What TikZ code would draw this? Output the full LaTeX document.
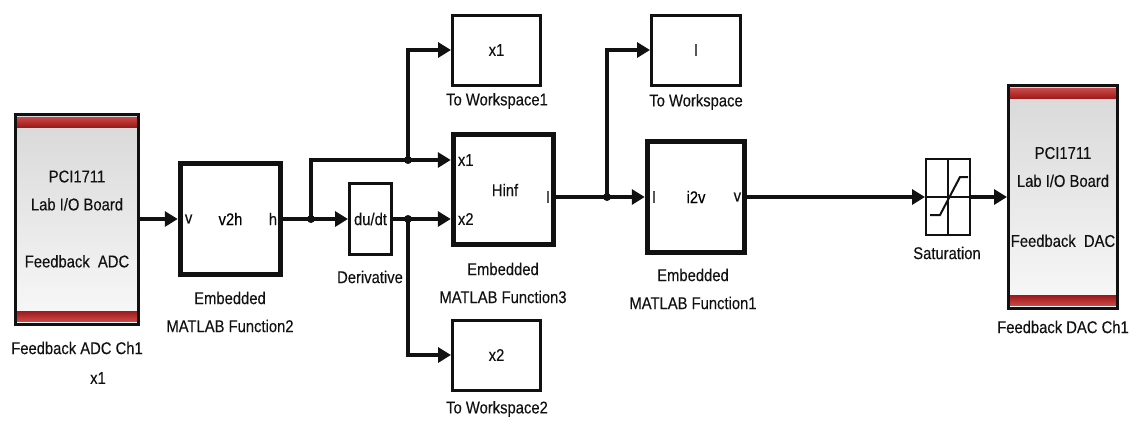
\documentclass[tikz,border=0pt]{standalone}
\usepackage{fontspec}
\setmainfont[FakeStretch=0.87,FakeBold=0.25]{Liberation Sans}
\usetikzlibrary{arrows.meta,positioning,calc}
\definecolor{slkInk}{HTML}{111111}
\definecolor{slkRed}{HTML}{9E1A1A}
\definecolor{slkRedHi}{HTML}{C94848}
\definecolor{slkPanelTop}{HTML}{D8D8D8}
\definecolor{slkPanelBot}{HTML}{F8F8F8}
\tikzset{
    >={Triangle[length=13pt,width=15pt]},
    every picture/.style={font=\fontsize{17}{20}\selectfont},
    fnblock/.style={draw=slkInk, line width=5.5pt, fill=white, inner sep=0pt},
    sinkblock/.style={draw=slkInk, line width=3pt, fill=white, inner sep=0pt, minimum width=88pt, minimum height=70pt, text=slkInk},
    board/.style={draw=slkInk, line width=3pt, align=center, text=slkInk, inner sep=0pt,
        path picture={
            \shade[top color=slkPanelTop, bottom color=slkPanelBot] (path picture bounding box.south west) rectangle (path picture bounding box.north east);
            \shade[top color=slkRedHi, bottom color=slkRed] ([yshift=-3pt]path picture bounding box.north west) rectangle ([yshift=-13pt]path picture bounding box.north east);
            \shade[top color=slkRed, bottom color=slkRedHi] ([yshift=3pt]path picture bounding box.south west) rectangle ([yshift=13pt]path picture bounding box.south east);
        }},
    caption/.style={text=slkInk, inner sep=0pt, align=center, font=\fontsize{17}{28}\selectfont},
    port/.style={text=slkInk, inner sep=0pt},
    wire/.style={->, line width=3.5pt, draw=slkInk},
    line/.style={line width=3.5pt, draw=slkInk},
    tap/.style={circle, fill=slkInk, inner sep=0pt, minimum size=8pt}
}
\begin{document}
\begin{tikzpicture}[x=1pt,y=-1pt]
\useasboundingbox (0,0) rectangle (1136,426);
% boards
\node[board, minimum width=123pt, minimum height=210pt, font=\fontsize{17}{28}\selectfont] (adc) at (77,219) {PCI1711\\Lab I/O Board\\[29pt]Feedback~ ADC};
\node[caption] (adcCap) at (77,348) {Feedback ADC Ch1};
\node[caption] (adcVar) at (98,378) {x1};
\node[board, minimum width=109pt, minimum height=223pt, font=\fontsize{17}{28}\selectfont] (dac) at (1063,197) {PCI1711\\Lab I/O Board\\[32pt]Feedback~ DAC};
\node[caption] (dacCap) at (1063,327) {Feedback DAC Ch1};

% embedded functions
\node[fnblock, minimum width=100pt, minimum height=111pt] (v2h) at (230.5,219) {v2h};
\node[port, anchor=west] (v2hIn) at ($(v2h.west)+(7,0)$) {v};
\node[port, anchor=east] (v2hOut) at ($(v2h.east)+(-6,0)$) {h};
\node[caption] (v2hCap) at (230,312) {Embedded\\MATLAB Function2};

\node[fnblock, minimum width=100pt, minimum height=110pt] (hinf) at (503.5,189.5) {};
\node[port] (hinfName) at (505,190) {Hinf};
\node[port, anchor=west] (hinfX1) at ($(hinf.west)+(7,-29.5)$) {x1};
\node[port, anchor=west] (hinfX2) at ($(hinf.west)+(7,29.5)$) {x2};
\node[port, anchor=east] (hinfI) at ($(hinf.east)+(-6,7.5)$) {I};
\node[caption] (hinfCap) at (503,283) {Embedded\\MATLAB Function3};

\node[fnblock, minimum width=97pt, minimum height=111pt] (i2v) at (696,197) {i2v};
\node[port, anchor=west] (i2vIn) at ($(i2v.west)+(7,0)$) {I};
\node[port, anchor=east] (i2vOut) at ($(i2v.east)+(-6,0)$) {v};
\node[caption] (i2vCap) at (693,289) {Embedded\\MATLAB Function1};

% derivative and saturation
\node[draw=slkInk, line width=3pt, fill=white, inner sep=0pt, minimum width=42pt, minimum height=71pt, text=slkInk] (deriv) at (370.5,219) {du/dt};
\node[caption] (derivCap) at (370,277) {Derivative};
\node[draw=slkInk, line width=2pt, fill=white, minimum width=44pt, minimum height=76pt] (sat) at (948,197) {};
\draw[slkInk, line width=1.5pt] (sat.north) -- (sat.south) (sat.west) -- (sat.east);
\draw[slkInk, line width=2pt, shift={(sat.center)}] (-18,18) -- (-8,18) -- (12,-20) -- (20,-20);
\node[caption] (satCap) at (947,253) {Saturation};

% workspace sinks
\node[sinkblock] (tw1) at (496.5,50) {x1};
\node[caption] (tw1Cap) at (497,101) {To Workspace1};
\node[sinkblock] (tw2) at (496.5,355) {x2};
\node[caption] (tw2Cap) at (497,409) {To Workspace2};
\node[sinkblock, minimum width=89pt] (tw) at (696,50) {I};
\node[caption] (twCap) at (696,102) {To Workspace};

% branch points
\coordinate (tapH) at (311,219);
\coordinate (tapX1) at (408,160);
\coordinate (tapX2) at (408,219);
\coordinate (tapI) at (607,197);

% signals
\draw[wire] (adc) -- (v2h);
\draw[line] (v2h) -- (tapH);
\draw[wire] (tapH) -- (deriv);
\draw[wire] (tapH) |- (hinf.west |- hinfX1);
\draw[wire] (tapX1) |- (tw1);
\draw[wire] (deriv) -- (hinf.west |- hinfX2);
\draw[wire] (tapX2) |- (tw2);
\draw[wire] (hinf.east |- i2v) -- (i2v);
\draw[wire] (tapI) |- (tw);
\draw[wire] (i2v) -- (sat);
\draw[wire] (sat) -- (dac);
\foreach \t in {tapH,tapX1,tapX2,tapI}
  \node[tap] (dot\t) at (\t) {};
\end{tikzpicture}
\end{document}
